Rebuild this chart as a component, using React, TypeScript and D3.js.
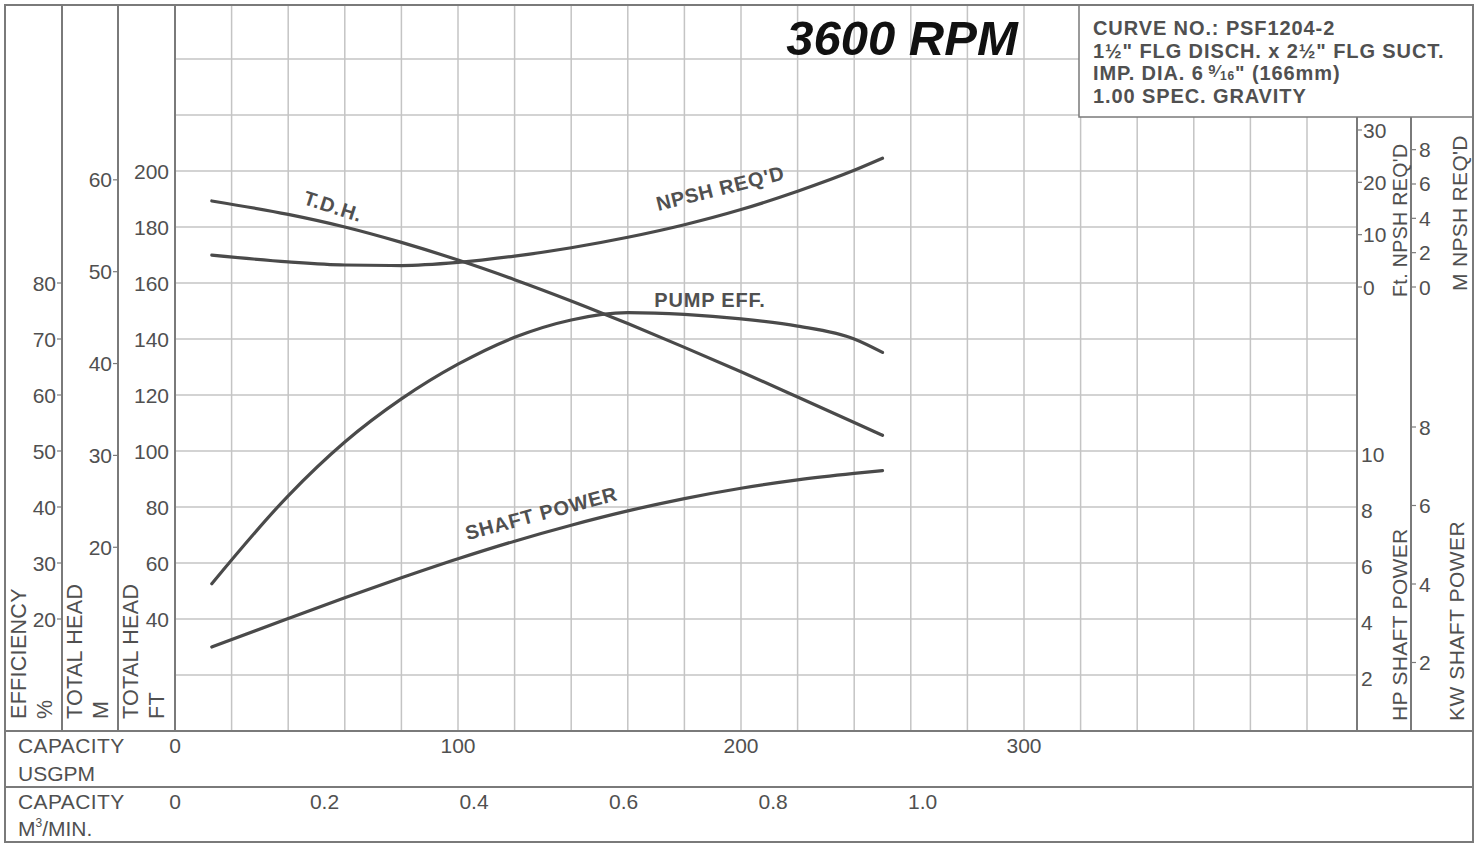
import React from 'react';
import * as d3 from 'd3';

// capacity points (USGPM)
const gpm = [13, 40, 60, 80, 100, 120, 140, 160, 180, 200, 220, 240, 250];
const tdhFt = [189.3, 184.5, 180.0, 174.5, 168.2, 161.2, 153.6, 145.5, 137.0, 128.3, 119.3, 110.2, 105.6];
const npshFt = [6.1, 4.8, 4.2, 4.1, 4.7, 5.9, 7.5, 9.5, 11.9, 14.8, 18.3, 22.3, 24.6];
const effPct = [26.3, 42.0, 51.6, 59.3, 65.5, 70.3, 73.4, 74.7, 74.4, 73.6, 72.3, 70.0, 67.6];
const shaftHp = [3.0, 4.02, 4.76, 5.47, 6.15, 6.78, 7.35, 7.86, 8.30, 8.67, 8.97, 9.20, 9.30];

// axis tick labels
const effTicks = [20, 30, 40, 50, 60, 70, 80];
const headMTicks = [20, 30, 40, 50, 60];
const headFtTicks = [40, 60, 80, 100, 120, 140, 160, 180, 200];
const npshFtTicks = [0, 10, 20, 30];
const npshMTicks = [0, 2, 4, 6, 8];
const hpTicks = [2, 4, 6, 8, 10];
const kwTicks = [2, 4, 6, 8];
const usgpmTicks = [0, 100, 200, 300];
const m3Ticks = [0, 0.2, 0.4, 0.6, 0.8, 1.0];

const infoLines = [
  'CURVE NO.: PSF1204-2',
  '1½" FLG DISCH. x 2½" FLG SUCT.',
  'IMP. DIA. 6',
  '1.00 SPEC. GRAVITY',
];

const W = 1481;
const H = 844;
const TEXT = '#505050';
const GRID = '#c4c4c4';
const FRAME = '#7a7a7a';
const CURVE = '#4a4a4a';
const FONT = '"Liberation Sans", Arial, sans-serif';

export default function App() {
  const left = 175;
  const right = 1357;
  const bottom = 731;

  const x = d3.scaleLinear().domain([0, 100]).range([left, 458]);
  const xM3 = d3.scaleLinear().domain([0, 1]).range([left, 175 + 264.17 * 2.83]);
  const yFt = d3.scaleLinear().domain([0, 200]).range([bottom, 171]);
  const yM = d3.scaleLinear().domain([0, 60]).range([bottom, bottom - 60 * 3.2808 * 2.8]);
  const yEff = d3.scaleLinear().domain([0, 80]).range([bottom, 283]);
  const yNpshFt = d3.scaleLinear().domain([0, 30]).range([287, 130]);
  const yNpshM = d3.scaleLinear().domain([0, 8]).range([287, 287 - 8 * 3.2808 * 5.233]);
  const yHp = d3.scaleLinear().domain([0, 10]).range([bottom, 451]);
  const yKw = d3.scaleLinear().domain([0, 8]).range([741, 427]);

  const line = (ys: number[], sy: d3.ScaleLinear<number, number>) =>
    d3.line<number>()
      .x((_, i) => x(gpm[i]))
      .y(d => sy(d))
      .curve(d3.curveMonotoneX)(ys) || '';

  const vGrid = d3.range(20, 401, 20);
  const hGrid = d3.range(20, 241, 20);

  const tickText = (props: any, label: string | number) => (
    <text fontFamily={FONT} fontSize={21} fill={TEXT} dominantBaseline="central" {...props}>{label}</text>
  );

  const rotLabel = (cx: number, by: number, label: string, size = 21, ls = 0.3) => (
    <text transform={`translate(${cx},${by}) rotate(-90)`} fontFamily={FONT} fontSize={size}
      fill={TEXT} letterSpacing={ls} dominantBaseline="central">{label}</text>
  );

  return (
    <svg width={W} height={H} style={{ position: 'absolute', left: 0, top: 0, background: '#fff' }}>
      <rect x={0} y={0} width={W} height={H} fill="#fff" />

      {/* grid */}
      <g stroke={GRID} strokeWidth={1.5}>
        {vGrid.map(v => (
          <line key={'v' + v} x1={x(v)} x2={x(v)} y1={5} y2={bottom} />
        ))}
        {hGrid.map(v => (
          <line key={'h' + v} x1={left} x2={right} y1={yFt(v)} y2={yFt(v)} />
        ))}
      </g>

      {/* header box */}
      <rect x={1079} y={5} width={1473 - 1079} height={112} fill="#fff" stroke={FRAME} strokeWidth={1.5} />
      <g fontFamily={FONT} fontWeight="bold" fontSize={20} fill={TEXT} letterSpacing={0.9}>
        <text x={1093} y={35}>{infoLines[0]}</text>
        <text x={1093} y={58}>{infoLines[1]}</text>
        <text x={1093} y={80}>
          {infoLines[2]}
          <tspan fontSize={13} dy={-6}> 9</tspan>
          <tspan fontSize={16} dy={3}>⁄</tspan>
          <tspan fontSize={12} dy={3}>16</tspan>
          <tspan dy={0}>" (166mm)</tspan>
        </text>
        <text x={1093} y={103}>{infoLines[3]}</text>
      </g>
      <text x={902} y={55} textAnchor="middle" fontFamily={FONT} fontWeight="bold" fontStyle="italic"
        fontSize={49} fill="#111">3600 RPM</text>

      {/* frame */}
      <g stroke={FRAME} strokeWidth={2} fill="none">
        <rect x={5} y={5} width={1468} height={837} />
        <line x1={62} x2={62} y1={5} y2={bottom} />
        <line x1={118} x2={118} y1={5} y2={bottom} />
        <line x1={left} x2={left} y1={5} y2={bottom} />
        <line x1={right} x2={right} y1={117} y2={bottom} />
        <line x1={1411} x2={1411} y1={117} y2={bottom} />
        <line x1={5} x2={1473} y1={bottom} y2={bottom} />
        <line x1={5} x2={1473} y1={787} y2={787} />
      </g>

      {/* left axes */}
      <g stroke={FRAME} strokeWidth={1.2}>
        {effTicks.map(t => <line key={'et' + t} x1={57} x2={62} y1={yEff(t)} y2={yEff(t)} />)}
        {headMTicks.map(t => <line key={'mt' + t} x1={113} x2={118} y1={yM(t)} y2={yM(t)} />)}
      </g>
      {effTicks.map(t => <React.Fragment key={'el' + t}>{tickText({ x: 56, y: yEff(t), textAnchor: 'end' }, t)}</React.Fragment>)}
      {headMTicks.map(t => <React.Fragment key={'ml' + t}>{tickText({ x: 112, y: yM(t), textAnchor: 'end' }, t)}</React.Fragment>)}
      {headFtTicks.map(t => <React.Fragment key={'fl' + t}>{tickText({ x: 169, y: yFt(t), textAnchor: 'end' }, t)}</React.Fragment>)}
      {rotLabel(19, 719, 'EFFICIENCY', 21.5)}
      {rotLabel(45, 719, '%', 21.5)}
      {rotLabel(75, 719, 'TOTAL HEAD', 21.5)}
      {rotLabel(101, 719, 'M', 21.5)}
      {rotLabel(131, 719, 'TOTAL HEAD', 21.5)}
      {rotLabel(157, 719, 'FT', 21.5)}

      {/* right axes */}
      <g stroke={FRAME} strokeWidth={1.2}>
        {npshFtTicks.map(t => <line key={'nt' + t} x1={right} x2={right + 5} y1={yNpshFt(t)} y2={yNpshFt(t)} />)}
        {npshMTicks.map(t => <line key={'nm' + t} x1={1411} x2={1416} y1={yNpshM(t)} y2={yNpshM(t)} />)}
        {kwTicks.map(t => <line key={'kt' + t} x1={1411} x2={1416} y1={yKw(t)} y2={yKw(t)} />)}
      </g>
      {npshFtTicks.map(t => <React.Fragment key={'nfl' + t}>{tickText({ x: 1363, y: yNpshFt(t) }, t)}</React.Fragment>)}
      {npshMTicks.map(t => <React.Fragment key={'nml' + t}>{tickText({ x: 1419, y: yNpshM(t) }, t)}</React.Fragment>)}
      {hpTicks.map(t => <React.Fragment key={'hl' + t}>{tickText({ x: 1361, y: yHp(t) + 3 }, t)}</React.Fragment>)}
      {kwTicks.map(t => <React.Fragment key={'kl' + t}>{tickText({ x: 1419, y: yKw(t) }, t)}</React.Fragment>)}
      {rotLabel(1400, 297, "Ft. NPSH REQ'D", 19.5, 0.4)}
      {rotLabel(1459, 291, "M NPSH REQ'D", 21, 0.3)}
      {rotLabel(1399, 721, 'HP SHAFT POWER', 21)}
      {rotLabel(1456, 721, 'KW SHAFT POWER', 21, 0.5)}

      {/* capacity rows */}
      <g fontFamily={FONT} fontSize={21} fill={TEXT}>
        <text x={18} y={753} letterSpacing={0.4}>CAPACITY</text>
        <text x={18} y={781}>USGPM</text>
        <text x={18} y={809} letterSpacing={0.4}>CAPACITY</text>
        <text x={18} y={836}>M<tspan fontSize={12} dy={-9}>3</tspan><tspan dy={9}>/MIN.</tspan></text>
        {usgpmTicks.map(t => (
          <text key={'u' + t} x={x(t)} y={753} textAnchor="middle">{t}</text>
        ))}
        {m3Ticks.map(t => (
          <text key={'c' + t} x={xM3(t)} y={809} textAnchor="middle">{t === 0 ? '0' : t.toFixed(1)}</text>
        ))}
      </g>

      {/* curves */}
      <g fill="none" stroke={CURVE} strokeWidth={3.2} strokeLinecap="round">
        <path d={line(tdhFt, yFt)} />
        <path d={line(npshFt, yNpshFt)} />
        <path d={line(effPct, yEff)} />
        <path d={line(shaftHp, yHp)} />
      </g>

      {/* curve labels */}
      <g fontFamily={FONT} fontWeight="bold" fontSize={20} fill={TEXT} textAnchor="middle" letterSpacing={0.8}>
        <text transform="translate(331,213) rotate(18)">T.D.H.</text>
        <text transform="translate(722,195) rotate(-14)">NPSH REQ'D</text>
        <text x={710} y={307}>PUMP EFF.</text>
        <text transform="translate(543,520) rotate(-15)">SHAFT POWER</text>
      </g>
    </svg>
  );
}
